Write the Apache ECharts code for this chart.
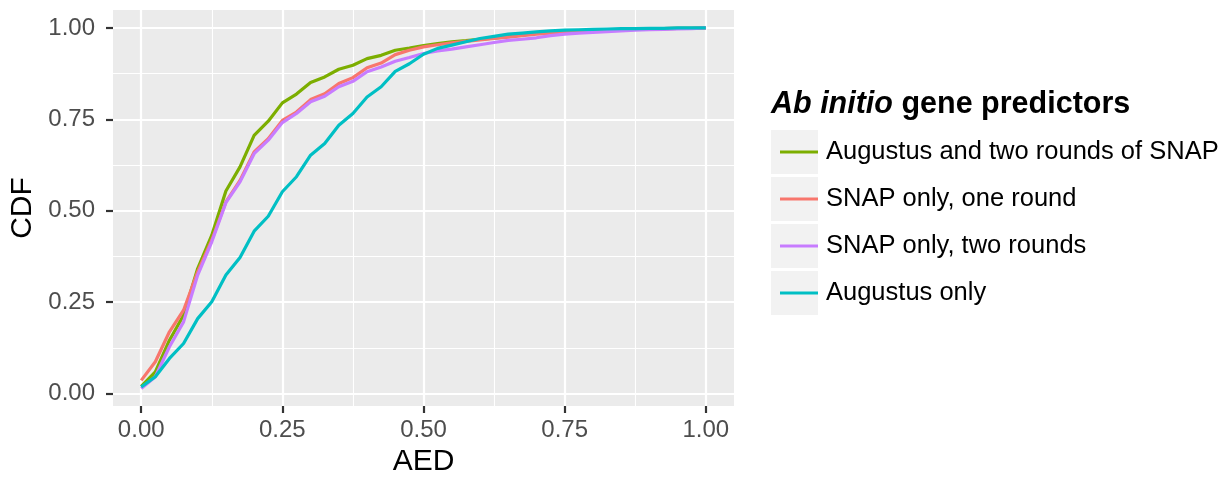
<!DOCTYPE html>
<html>
<head>
<meta charset="utf-8">
<script src="https://cdn.jsdelivr.net/npm/echarts@6/dist/echarts.min.js"></script>
<style>
html,body{margin:0;padding:0;background:#fff;}
#chart{width:1232px;height:480px;}
</style>
</head>
<body>
<div id="chart"></div>
<script>
// ---- data ----
const aed = [0.000,0.025,0.050,0.075,0.100,0.125,0.150,0.175,0.200,0.225,0.250,0.275,0.300,0.325,0.350,0.375,0.400,0.425,0.450,0.475,0.500,0.525,0.550,0.575,0.600,0.625,0.650,0.675,0.700,0.725,0.750,0.775,0.800,0.825,0.850,0.875,0.900,0.925,0.950,0.975,1.000];
const augustusSnap2 = [0.020,0.059,0.146,0.214,0.342,0.433,0.554,0.620,0.706,0.745,0.795,0.819,0.851,0.866,0.887,0.898,0.916,0.925,0.939,0.945,0.952,0.957,0.962,0.965,0.969,0.972,0.976,0.981,0.985,0.988,0.990,0.991,0.993,0.994,0.995,0.996,0.997,0.998,0.999,0.999,1.000];
const snapOne = [0.036,0.087,0.169,0.228,0.333,0.420,0.524,0.583,0.661,0.697,0.747,0.770,0.804,0.820,0.848,0.864,0.891,0.904,0.927,0.939,0.948,0.954,0.959,0.963,0.967,0.971,0.975,0.979,0.983,0.986,0.989,0.991,0.993,0.994,0.995,0.996,0.997,0.998,0.999,0.999,1.000];
const snapTwo = [0.014,0.046,0.128,0.196,0.324,0.415,0.522,0.579,0.656,0.693,0.741,0.766,0.798,0.813,0.839,0.854,0.880,0.893,0.909,0.919,0.930,0.937,0.942,0.948,0.954,0.960,0.966,0.969,0.973,0.979,0.983,0.986,0.988,0.990,0.992,0.994,0.995,0.996,0.997,0.998,1.000];
const augustusOnly = [0.018,0.046,0.096,0.137,0.205,0.251,0.324,0.372,0.444,0.485,0.552,0.593,0.652,0.684,0.734,0.766,0.811,0.839,0.881,0.902,0.928,0.944,0.953,0.962,0.971,0.977,0.983,0.986,0.989,0.992,0.994,0.995,0.996,0.997,0.998,0.998,0.999,0.999,1.000,1.000,1.000];
const seriesNames = ['Augustus and two rounds of SNAP','SNAP only, one round','SNAP only, two rounds','Augustus only'];
const seriesValues = [augustusSnap2, snapOne, snapTwo, augustusOnly];
const seriesColors = ['#7CAE00','#F8766D','#C77CFF','#00BFC4'];
const majorTicks = [0, 0.25, 0.5, 0.75, 1];
const minorTicks = [0.125, 0.375, 0.625, 0.875];
const legendTitleItalic = 'Ab initio';
const legendTitleRest = ' gene predictors';

// ---- chart ----
const chart = echarts.init(document.getElementById('chart'), null, {renderer:'canvas'});
const FONT = '"Liberation Sans", Arial, Helvetica, sans-serif';
const fmt = v => v.toFixed(2);

const baseAxis = {
  type:'value',
  axisLine:{show:false, onZero:false},
  axisTick:{show:true, length:7, lineStyle:{color:'#333333', width:2.2}, customValues: majorTicks},
  axisLabel:{show:true, customValues: majorTicks, formatter: fmt, color:'#4D4D4D', fontSize:24, fontFamily:FONT},
  splitLine:{show:true, lineStyle:{color:'#FFFFFF', width:2.2}},
};
const minorAxis = {
  type:'value',
  axisLine:{show:false, onZero:false},
  axisTick:{show:false, customValues: minorTicks},
  axisLabel:{show:false},
  splitLine:{show:true, lineStyle:{color:'#FFFFFF', width:1.1}},
};

const option = {
  animation:false,
  backgroundColor:'#FFFFFF',
  textStyle:{fontFamily:FONT},
  grid:{left:113, right:498, top:10, bottom:74, show:true, backgroundColor:'#EBEBEB', borderWidth:0, containLabel:false, outerBoundsMode:'none'},
  title:{
    left:771, top:89, padding:0,
    text:'{i|' + legendTitleItalic + '}{b|' + legendTitleRest + '}',
    textStyle:{rich:{
      i:{fontStyle:'italic', fontWeight:'bold', fontSize:30.5, color:'#000', fontFamily:FONT},
      b:{fontWeight:'bold', fontSize:30.5, color:'#000', fontFamily:FONT}
    }}
  },
  legend:{
    orient:'vertical', left:775, top:132,
    itemWidth:38, itemHeight:3, itemGap:17,
    icon:'rect', selectedMode:false,
    data: seriesNames,
    textStyle:{fontSize:25.5, color:'#000', fontFamily:FONT, lineHeight:30, padding:[0,0,0,3]}
  },
  graphic: seriesNames.map((n,i)=>({
    type:'rect', left:771, top:130 + i*47, z:-1,
    shape:{width:47, height:44}, style:{fill:'#F2F2F2'}, silent:true
  })),
  xAxis:[
    Object.assign({}, baseAxis, {min:-0.05, max:1.05, name:'AED', nameLocation:'middle', nameGap:40,
      nameTextStyle:{fontSize:30, color:'#000', fontFamily:FONT},
      axisLabel:Object.assign({}, baseAxis.axisLabel, {margin:12})}),
    Object.assign({}, minorAxis, {min:-0.05, max:1.05})
  ],
  yAxis:[
    Object.assign({}, baseAxis, {min:-0.034, max:1.049, name:'CDF', nameLocation:'middle', nameGap:72,
      nameTextStyle:{fontSize:30, color:'#000', fontFamily:FONT},
      axisLabel:Object.assign({}, baseAxis.axisLabel, {margin:18})}),
    Object.assign({}, minorAxis, {min:-0.034, max:1.049, position:'left'})
  ],
  series: seriesNames.map((n,i)=>({
    name:n, type:'line', xAxisIndex:0, yAxisIndex:0,
    data: aed.map((x,j)=>[x, seriesValues[i][j]]),
    showSymbol:false, symbol:'none',
    lineStyle:{color:seriesColors[i], width:3.2},
    itemStyle:{color:seriesColors[i]},
    z:2+i
  }))
};
chart.setOption(option);
</script>
</body>
</html>
